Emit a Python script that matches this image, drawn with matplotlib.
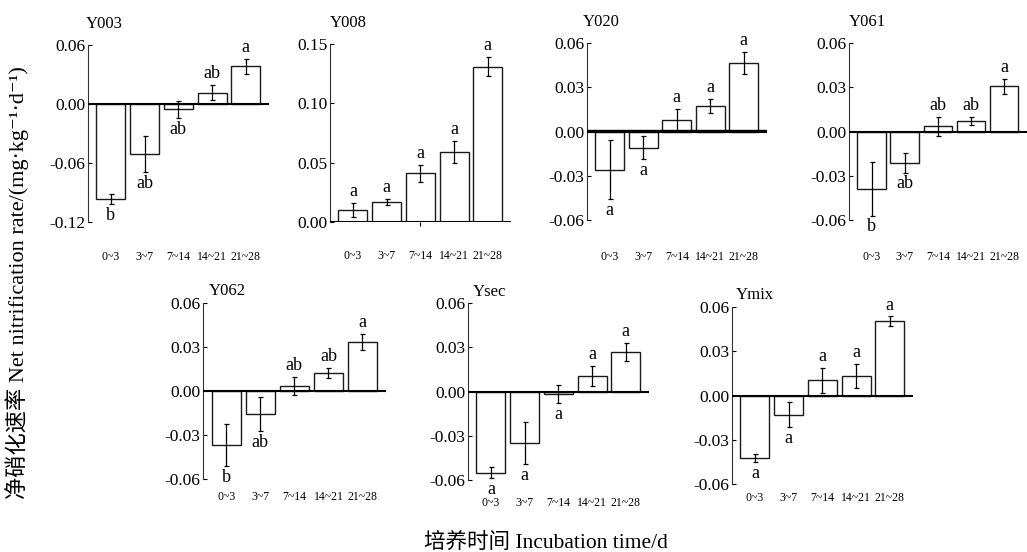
import matplotlib
matplotlib.use("Agg")
import matplotlib.pyplot as plt
import numpy as np

plt.rcParams['font.family'] = ['Liberation Serif', 'Noto Sans CJK SC', 'DejaVu Sans']
plt.rcParams['axes.unicode_minus'] = False

# ---------------- data ----------------
categories = ["0~3", "3~7", "7~14", "14~21", "21~28"]
panel_names = ["Y003", "Y008", "Y020", "Y061", "Y062", "Ysec", "Ymix"]

y003_mean = [-0.0968, -0.0510, -0.0055, 0.0116, 0.0385]
y003_err = [0.0050, 0.0180, 0.0090, 0.0075, 0.0075]
y003_sig = ["b", "ab", "ab", "ab", "a"]

y008_mean = [0.0098, 0.0171, 0.0410, 0.0590, 0.1310]
y008_err = [0.0060, 0.0025, 0.0074, 0.0093, 0.0079]
y008_sig = ["a", "a", "a", "a", "a"]

y020_mean = [-0.0258, -0.0111, 0.0077, 0.0174, 0.0466]
y020_err = [0.0200, 0.0078, 0.0076, 0.0048, 0.0074]
y020_sig = ["a", "a", "a", "a", "a"]

y061_mean = [-0.0387, -0.0213, 0.0034, 0.0072, 0.0306]
y061_err = [0.0183, 0.0066, 0.0065, 0.0025, 0.0050]
y061_sig = ["b", "ab", "ab", "ab", "a"]

y062_mean = [-0.0369, -0.0158, 0.0034, 0.0125, 0.0333]
y062_err = [0.0145, 0.0115, 0.0060, 0.0035, 0.0054]
y062_sig = ["b", "ab", "ab", "ab", "a"]

ysec_mean = [-0.0552, -0.0349, -0.0016, 0.0104, 0.0269]
ysec_err = [0.0037, 0.0145, 0.0062, 0.0067, 0.0062]
ysec_sig = ["a", "a", "a", "a", "a"]

ymix_mean = [-0.0426, -0.0131, 0.0102, 0.0131, 0.0503]
ymix_err = [0.0027, 0.0085, 0.0085, 0.0082, 0.0034]
ymix_sig = ["a", "a", "a", "a", "a"]

y003_ticks = [-0.12, -0.06, 0.00, 0.06]
y008_ticks = [0.00, 0.05, 0.10, 0.15]
common_ticks = [-0.06, -0.03, 0.00, 0.03, 0.06]

ylabel = "净硝化速率 Net nitrification rate/(mg·kg⁻¹·d⁻¹)"
xlabel = "培养时间 Incubation time/d"

means = [y003_mean, y008_mean, y020_mean, y061_mean, y062_mean, ysec_mean, ymix_mean]
errs = [y003_err, y008_err, y020_err, y061_err, y062_err, ysec_err, ymix_err]
sigs = [y003_sig, y008_sig, y020_sig, y061_sig, y062_sig, ysec_sig, ymix_sig]
yticks = [y003_ticks, y008_ticks, common_ticks, common_ticks,
          common_ticks, common_ticks, common_ticks]

# ---------------- layout (pixels: left, right, top, bottom) ----------------
W, H = 1027, 552
rects_px = [
    (88, 269, 45, 222),
    (330, 511, 44, 222),
    (587, 767, 43, 220),
    (849, 1027, 43, 220),
    (203, 386, 303, 479),
    (468, 649, 303, 480),
    (732, 913, 307, 484),
]
title_dx = [-2, 0, -4, 0, 6, 5, 4]        # px offset of title from axis
title_dy = [21, 21, 21, 21, 12, 11, 12]   # px above axes top (title center)
cat_dy = [35, 34, 37, 37, 18, 23, 14]     # px below axes bottom (label center)

fig = plt.figure(figsize=(W / 100, H / 100), dpi=100)
px2pt = 72 / 100

for i, name in enumerate(panel_names):
    l, r, t, b = rects_px[i]
    ax = fig.add_axes([l / W, 1 - b / H, (r - l) / W, (b - t) / H])
    x = np.arange(len(categories))
    m = np.array(means[i])
    e = np.array(errs[i])
    ax.bar(x, m, width=0.86, color='white', edgecolor='#1a1a1a', linewidth=1.0, zorder=2)
    ax.errorbar(x, m, yerr=e, fmt='none', ecolor='black', elinewidth=0.9,
                capsize=1.8, capthick=0.9, zorder=3)
    ax.axhline(0, color='black', linewidth=1.5, zorder=4)
    if name == "Y020":
        ax.axhline(0.0013, color='black', linewidth=1.0, zorder=4)
    ax.set_xlim(-0.68, 4.69)
    tk = yticks[i]
    ax.set_ylim(tk[0], tk[-1])
    ax.set_yticks(tk)
    ax.set_yticklabels([f"{v:.2f}" for v in tk], fontsize=12.5)
    ax.tick_params(axis='y', direction='in', length=3, width=0.8, pad=2)
    for s in ['top', 'right', 'bottom']:
        ax.spines[s].set_visible(False)
    ax.spines['left'].set_linewidth(0.8)
    ax.spines['left'].set_color('#333333')
    if name == "Y008":
        ax.set_xticks([2])
        ax.set_xticklabels([""])
        ax.tick_params(axis='x', direction='out', length=3, width=0.8)
    else:
        ax.set_xticks([])
    # significance letters
    for xi, mv, ev, s in zip(x, m, e, sigs[i]):
        if mv >= 0:
            ax.annotate(s, (xi, mv + ev), xytext=(0, 2), textcoords='offset points',
                        ha='center', va='bottom', fontsize=13, zorder=5)
        else:
            ax.annotate(s, (xi, mv - ev), xytext=(0, -2), textcoords='offset points',
                        ha='center', va='top', fontsize=13, zorder=5)
    # category labels
    for xi, c in zip(x, categories):
        ax.annotate(c, (xi, 0), xycoords=('data', 'axes fraction'),
                    xytext=(0, -cat_dy[i] * px2pt), textcoords='offset points',
                    ha='center', va='center', fontsize=8.5, annotation_clip=False)
    # title
    ax.annotate(name, (0, 1), xycoords='axes fraction',
                xytext=(title_dx[i] * px2pt, title_dy[i] * px2pt), textcoords='offset points',
                ha='left', va='center', fontsize=12, annotation_clip=False)

fig.text(17 / W, 1 - 283 / H, ylabel, rotation=90, ha='center', va='center', fontsize=16)
fig.text(546 / W, 1 - 543 / H, xlabel, ha='center', va='center', fontsize=15.5)

fig.savefig("out.png", dpi=100)
